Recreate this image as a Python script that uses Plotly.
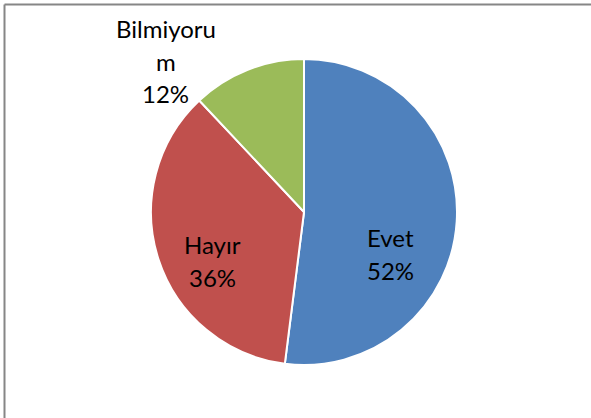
import plotly.graph_objects as go

labels = ["Evet", "Hayır", "Bilmiyorum"]
values = [52, 36, 12]
colors = ["#4F81BD", "#C0504D", "#9BBB59"]
label_lines = [["Evet"], ["Hayır"], ["Bilmiyoru", "m"]]

W, H = 591, 418
FONT = "Lato"
FONT_SIZE = 24
LINE_GAP = 33  # px between text lines, Excel-style spacing

# label block centres in pixels (x from left, y from top)
label_pos = [(390, 254), (212, 261), (166, 61)]

fig = go.Figure(
    go.Pie(
        labels=labels,
        values=values,
        textinfo="none",
        marker=dict(colors=colors, line=dict(color="#FFFFFF", width=2)),
        sort=False,
        direction="clockwise",
        rotation=0,
        showlegend=False,
        hoverinfo="label+percent",
        domain=dict(x=[151 / W, 457 / W], y=[(H - 365) / H, (H - 59) / H]),
    )
)

for lines, v, (cx, cy) in zip(label_lines, values, label_pos):
    rows = lines + [f"{v}%"]
    top = cy - LINE_GAP * (len(rows) - 1) / 2
    for i, row in enumerate(rows):
        fig.add_annotation(
            x=cx / W, y=1 - (top + i * LINE_GAP) / H,
            xref="paper", yref="paper",
            xanchor="center", yanchor="middle",
            text=row, showarrow=False,
            font=dict(family=FONT, size=FONT_SIZE, color="#000000"),
        )

# chart area frame (only top/left edges visible in the crop)
fig.add_shape(type="line", xref="paper", yref="paper",
              x0=4.5 / W, x1=1.05, y0=1 - 4.5 / H, y1=1 - 4.5 / H,
              line=dict(color="#868686", width=2))
fig.add_shape(type="line", xref="paper", yref="paper",
              x0=4.5 / W, x1=4.5 / W, y0=-0.05, y1=1 - 4.5 / H,
              line=dict(color="#868686", width=2))

fig.update_layout(
    width=W, height=H,
    margin=dict(l=0, r=0, t=0, b=0),
    paper_bgcolor="white",
    plot_bgcolor="white",
    autosize=False,
)

fig.write_html(
    "out.html",
    config={"displayModeBar": False},
    post_script="document.body.style.margin='0';",
)
